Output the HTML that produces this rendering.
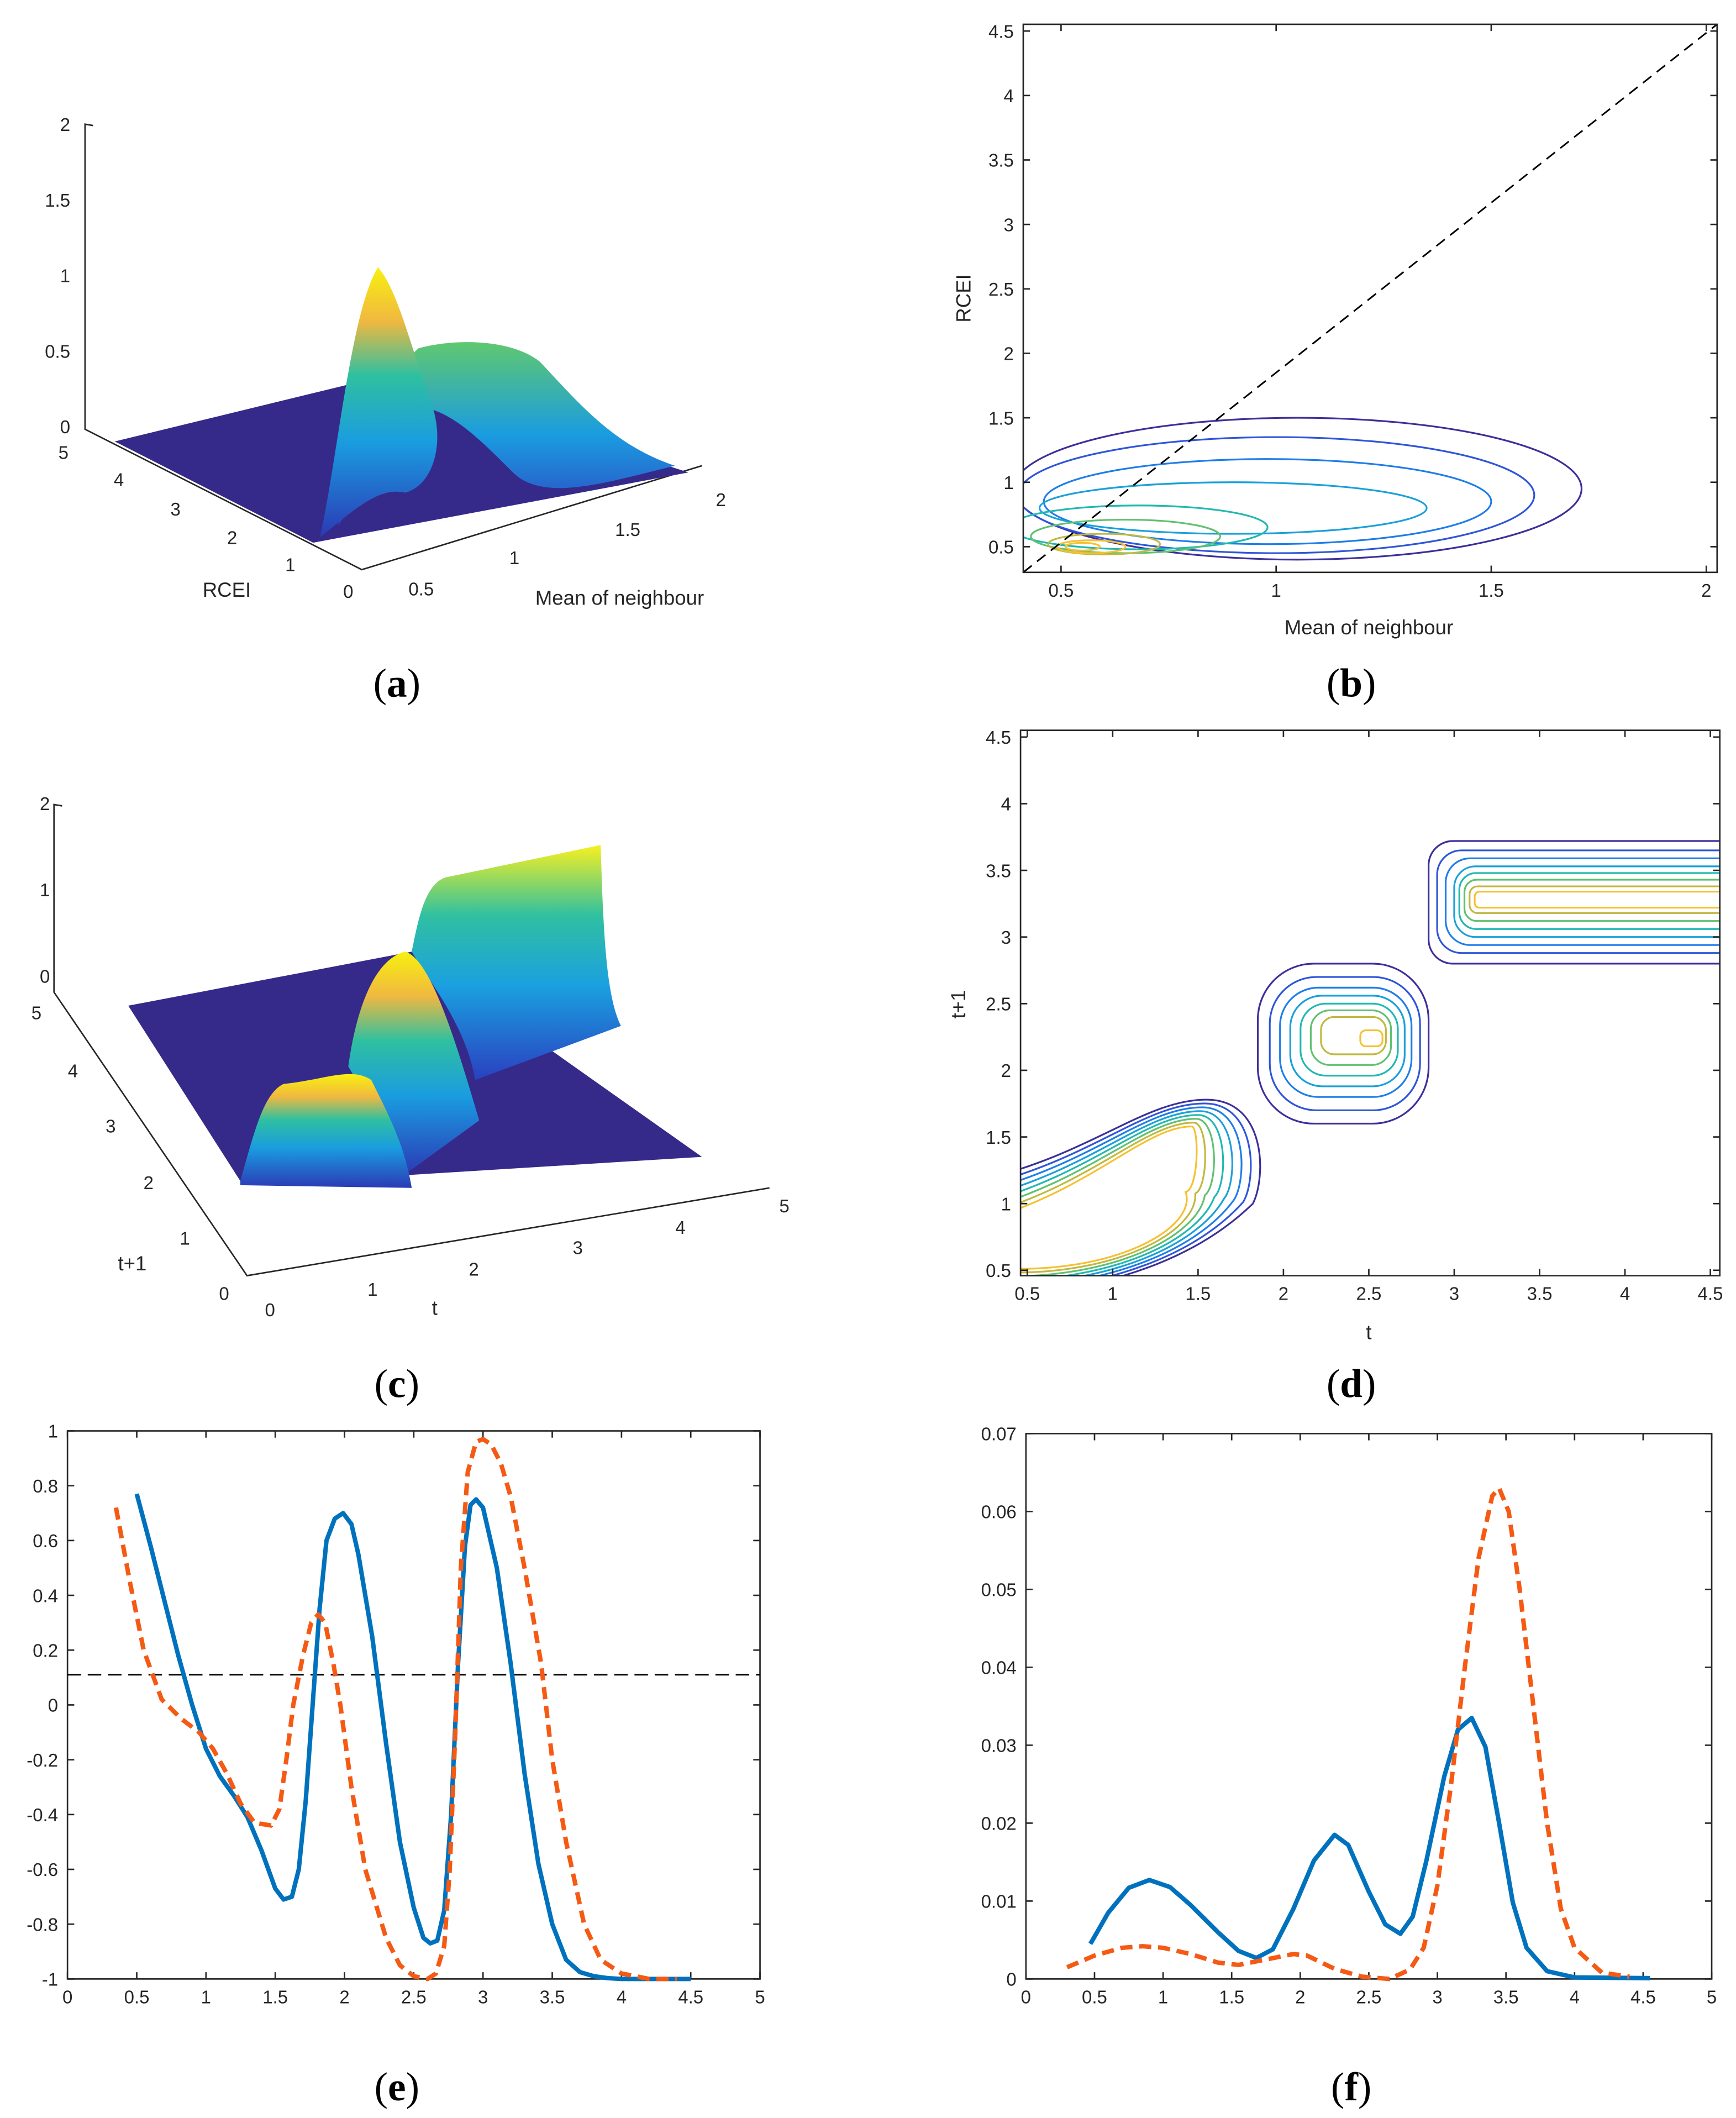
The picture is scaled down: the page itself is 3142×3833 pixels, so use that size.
<!DOCTYPE html>
<html><head><meta charset="utf-8"><style>
html,body{margin:0;padding:0;background:#fff}
svg{display:block}
text{font-family:"Liberation Sans",Arial,sans-serif;fill:#262626}
.lab text{font-family:"Liberation Serif",serif;font-size:30px;fill:#000}
.tk{font-size:13.5px}
.ax{stroke:#262626;stroke-width:1.1;fill:none}
</style></head><body>
<svg id="fig" xmlns="http://www.w3.org/2000/svg" width="3142" height="3833" viewBox="0 0 1286 1569" preserveAspectRatio="none">
<defs>
<linearGradient id="gpk" x1="0" y1="1" x2="0" y2="0"><stop offset="0" stop-color="#2b3ab5"/><stop offset="0.35" stop-color="#1a9ce0"/><stop offset="0.6" stop-color="#2fc0a0"/><stop offset="0.8" stop-color="#f0b840"/><stop offset="1" stop-color="#f8f010"/></linearGradient>
<linearGradient id="grd" x1="0" y1="1" x2="0" y2="0"><stop offset="0" stop-color="#3040c0"/><stop offset="0.5" stop-color="#1a9ce0"/><stop offset="1" stop-color="#60c870"/></linearGradient>
<linearGradient id="gwall" x1="0" y1="1" x2="0" y2="0"><stop offset="0" stop-color="#2a40c0"/><stop offset="0.4" stop-color="#1aa0e0"/><stop offset="0.7" stop-color="#30c0a0"/><stop offset="1" stop-color="#f8f020"/></linearGradient>
<clipPath id="cb"><rect x="758" y="18" width="514" height="406"/></clipPath>
<clipPath id="cd"><rect x="756" y="541" width="518" height="404"/></clipPath>
</defs>

<!-- (a) 3D surface -->
<g>
<polyline class="ax" points="69,93 63,92 63,318 268,422 520,345"/>
<g class="tk" text-anchor="end">
<text x="52" y="97">2</text><text x="52" y="153">1.5</text><text x="52" y="209">1</text><text x="52" y="265">0.5</text><text x="52" y="321">0</text>
</g>
<g class="tk" text-anchor="middle">
<text x="47" y="340">5</text><text x="88" y="360">4</text><text x="130" y="382">3</text><text x="172" y="403">2</text><text x="215" y="423">1</text><text x="258" y="443">0</text>
<text x="312" y="441">0.5</text><text x="381" y="418">1</text><text x="465" y="397">1.5</text><text x="534" y="375">2</text>
</g>
<text x="168" y="442" font-size="15" text-anchor="middle">RCEI</text>
<text x="459" y="448" font-size="15" text-anchor="middle">Mean of neighbour</text>
<polygon points="85,327 270,282 355,300 510,350 232,402" fill="#352a8a"/>
<path d="M250,390 C270,330 285,280 310,258 C340,250 380,252 400,268 C430,300 455,330 500,345 L480,350 C440,360 400,370 380,350 C350,320 330,300 300,300 C280,320 265,370 250,390 Z" fill="url(#grd)"/>
<path d="M237,398 C250,340 260,230 280,198 C295,215 305,260 320,300 C330,330 320,360 300,365 C280,360 260,380 237,398 Z" fill="url(#gpk)"/>
</g>

<!-- (c) 3D surface -->
<g>
<polyline class="ax" points="46,597 40,596 40,735 183,945 570,880"/>
<g class="tk" text-anchor="end">
<text x="37" y="600">2</text><text x="37" y="664">1</text><text x="37" y="728">0</text>
</g>
<g class="tk" text-anchor="middle">
<text x="27" y="755">5</text><text x="54" y="798">4</text><text x="82" y="839">3</text><text x="110" y="881">2</text><text x="137" y="922">1</text><text x="166" y="963">0</text>
<text x="200" y="975">0</text><text x="276" y="960">1</text><text x="351" y="945">2</text><text x="428" y="929">3</text><text x="504" y="914">4</text><text x="581" y="898">5</text>
</g>
<text x="98" y="941" font-size="15" text-anchor="middle">t+1</text>
<text x="322" y="974" font-size="15" text-anchor="middle">t</text>
<polygon points="95,745 305,705 520,857 180,878" fill="#352a8a"/>
<path d="M305,705 C310,680 315,655 330,650 L445,626 C447,700 450,740 460,760 L352,800 C345,760 320,730 305,705 Z" fill="url(#gwall)"/>
<path d="M258,790 C265,740 280,710 300,705 C320,710 340,780 355,830 L300,870 C285,840 270,810 258,790 Z" fill="url(#gpk)"/>
<path d="M178,875 C188,840 195,810 210,803 C240,800 260,790 275,800 C290,830 300,850 305,880 L178,878 Z" fill="url(#gpk)"/>
</g>

<!-- labels -->
<g class="lab" text-anchor="middle">
<text x="294" y="516">(<tspan font-weight="bold">a</tspan>)</text>
<text x="1001" y="516">(<tspan font-weight="bold">b</tspan>)</text>
<text x="294" y="1035">(<tspan font-weight="bold">c</tspan>)</text>
<text x="1001" y="1035">(<tspan font-weight="bold">d</tspan>)</text>
<text x="294" y="1556">(<tspan font-weight="bold">e</tspan>)</text>
<text x="1001" y="1556">(<tspan font-weight="bold">f</tspan>)</text>
</g>
<g id="dyn"></g>
</svg>
<script>
// ---- data ----
var eTicksX=[0,0.5,1,1.5,2,2.5,3,3.5,4,4.5,5];
var eTicksY=[-1,-0.8,-0.6,-0.4,-0.2,0,0.2,0.4,0.6,0.8,1];
var eBlueX=[0.5,0.6,0.7,0.8,0.9,1.0,1.1,1.2,1.3,1.4,1.5,1.56,1.62,1.67,1.72,1.77,1.82,1.87,1.93,1.99,2.05,2.1,2.2,2.3,2.4,2.5,2.57,2.62,2.67,2.72,2.77,2.82,2.87,2.91,2.95,3.0,3.1,3.2,3.3,3.4,3.5,3.6,3.7,3.8,3.9,4.0,4.5];
var eBlueY=[0.77,0.58,0.38,0.18,0.0,-0.16,-0.26,-0.33,-0.41,-0.53,-0.67,-0.71,-0.7,-0.6,-0.35,0.0,0.35,0.6,0.68,0.7,0.66,0.55,0.25,-0.14,-0.5,-0.74,-0.85,-0.87,-0.86,-0.75,-0.4,0.15,0.58,0.73,0.75,0.72,0.5,0.15,-0.25,-0.58,-0.8,-0.93,-0.975,-0.99,-0.997,-1,-1];
var eOrangeX=[0.35,0.45,0.55,0.68,0.82,0.95,1.05,1.15,1.25,1.35,1.47,1.53,1.58,1.63,1.7,1.76,1.81,1.86,1.92,1.97,2.05,2.15,2.3,2.4,2.5,2.6,2.66,2.72,2.76,2.8,2.84,2.89,2.95,3.0,3.06,3.13,3.2,3.3,3.42,3.5,3.6,3.73,3.85,4.0,4.2,4.4];
var eOrangeY=[0.72,0.45,0.2,0.02,-0.05,-0.1,-0.16,-0.25,-0.36,-0.43,-0.44,-0.38,-0.2,0.0,0.18,0.3,0.33,0.3,0.15,0.0,-0.3,-0.6,-0.85,-0.95,-0.99,-1.0,-0.98,-0.88,-0.6,-0.1,0.5,0.85,0.96,0.97,0.95,0.88,0.76,0.5,0.15,-0.2,-0.5,-0.8,-0.93,-0.98,-1,-1];
var eThreshold=[0.11];
var fTicksX=[0,0.5,1,1.5,2,2.5,3,3.5,4,4.5,5];
var fTicksY=[0,0.01,0.02,0.03,0.04,0.05,0.06,0.07];
var fBlueX=[0.47,0.6,0.75,0.9,1.05,1.2,1.4,1.55,1.68,1.8,1.95,2.1,2.25,2.35,2.5,2.62,2.73,2.82,2.92,3.05,3.15,3.25,3.35,3.45,3.55,3.65,3.8,4.0,4.55];
var fBlueY=[0.0045,0.0085,0.0117,0.0127,0.0118,0.0095,0.006,0.0036,0.0027,0.0038,0.009,0.0152,0.0185,0.0172,0.0112,0.007,0.0058,0.008,0.0152,0.026,0.032,0.0335,0.0298,0.02,0.0098,0.004,0.001,0.0002,0.0001];
var fOrangeX=[0.3,0.5,0.7,0.85,1.0,1.2,1.4,1.55,1.75,1.95,2.05,2.25,2.45,2.65,2.8,2.9,3.0,3.1,3.2,3.3,3.4,3.45,3.52,3.6,3.7,3.8,3.9,4.0,4.2,4.4];
var fOrangeY=[0.0015,0.003,0.004,0.0042,0.004,0.0032,0.0021,0.0018,0.0025,0.0032,0.003,0.0013,0.0003,0.0,0.0012,0.004,0.012,0.025,0.04,0.054,0.062,0.063,0.06,0.05,0.035,0.02,0.009,0.004,0.0008,0.0003];
var bTicksX=[0.5,1,1.5,2];
var bTicksY=[0.5,1,1.5,2,2.5,3,3.5,4,4.5];
// contour levels (b): center x, center y, radius x, radius y
var bLevelCx=[1.05,1.0,0.98,0.9,0.68,0.65,0.6,0.57,0.55];
var bLevelCy=[0.95,0.9,0.85,0.8,0.65,0.58,0.52,0.5,0.5];
var bLevelRx=[0.66,0.6,0.52,0.45,0.3,0.22,0.13,0.08,0.04];
var bLevelRy=[0.55,0.45,0.33,0.2,0.17,0.13,0.08,0.05,0.03];
var dTicksX=[0.5,1,1.5,2,2.5,3,3.5,4,4.5];
var dTicksY=[0.5,1,1.5,2,2.5,3,3.5,4,4.5];
// contour groups (d): x0,x1,y0,y1 per level
var d2X0=[1.85,1.92,1.98,2.04,2.1,2.16,2.22,2.45];
var d2X1=[2.85,2.8,2.75,2.71,2.67,2.63,2.6,2.58];
var d2Y0=[1.6,1.7,1.8,1.88,1.96,2.04,2.12,2.18];
var d2Y1=[2.8,2.7,2.62,2.56,2.5,2.45,2.4,2.3];
var d3X0=[2.85,2.9,2.95,3.0,3.03,3.06,3.09,3.12];
var d3Y0=[2.8,2.88,2.94,3.0,3.06,3.12,3.18,3.22];
var d3Y1=[3.72,3.65,3.59,3.53,3.48,3.43,3.38,3.34];
var levelColors=["#3d2f9a","#2f55d8","#1e7de8","#1aa0d8","#20b8b0","#60c070","#c0b840","#f5c030"];

var NS="http://www.w3.org/2000/svg";
var dyn=document.getElementById('dyn');
function el(tag,attrs,parent){var e=document.createElementNS(NS,tag);for(var k in attrs)e.setAttribute(k,attrs[k]);(parent||dyn).appendChild(e);return e;}
function lin(d0,d1,p0,p1){return function(v){return p0+(v-d0)/(d1-d0)*(p1-p0);};}
function axesBox(g,L,T,R,B,xs,ys,xt,yt,fmtx,fmty,labelsX,labelsY){
  var r=el('rect',{x:L,y:T,width:R-L,height:B-T,class:'ax'},g);
  
  
  xt.forEach(function(v){var x=xs(v);el('line',{x1:x,y1:B,x2:x,y2:B-5,class:'ax'},g);el('line',{x1:x,y1:T,x2:x,y2:T+5,class:'ax'},g);
    if(labelsX){var t=el('text',{x:x,y:B+18,'text-anchor':'middle',class:'tk'},g);t.textContent=fmtx(v);}});
  yt.forEach(function(v){var y=ys(v);el('line',{x1:L,y1:y,x2:L+5,y2:y,class:'ax'},g);el('line',{x1:R,y1:y,x2:R-5,y2:y,class:'ax'},g);
    if(labelsY){var t=el('text',{x:L-7,y:y+5,'text-anchor':'end',class:'tk'},g);t.textContent=fmty(v);}});
}
function fmt(v){return String(v);}
function line(g,X,Y,xs,ys,color,dash,name){
  var pts=X.map(function(x,i){return xs(x).toFixed(2)+','+ys(Y[i]).toFixed(2);}).join(' ');
  var p=el('polyline',{points:pts,fill:'none',stroke:color,'stroke-width':3.3,'stroke-linejoin':'round'},g);
  if(dash)p.setAttribute('stroke-dasharray',dash);
  
  
}
// (e)
(function(){
  var g=el('g',{});
  
  
  var xs=lin(0,5,50,563), ys=lin(-1,1,1466,1060);
  axesBox(g,50,1060,563,1466,xs,ys,eTicksX,eTicksY,fmt,fmt,true,true);
  var th=el('line',{x1:50,x2:563,y1:ys(eThreshold[0]),y2:ys(eThreshold[0]),stroke:'#000','stroke-width':1.1,'stroke-dasharray':'10,5'},g);
  
  
  line(g,eBlueX,eBlueY,xs,ys,'#0072bd',null,'series-blue');
  line(g,eOrangeX,eOrangeY,xs,ys,'#f55a14','9,5','series-orange-dashed');
})();
// (f)
(function(){
  var g=el('g',{});
  
  
  var xs=lin(0,5,760,1268), ys=lin(0,0.07,1466,1062);
  axesBox(g,760,1062,1268,1466,xs,ys,fTicksX,fTicksY,fmt,function(v){return v===0?'0':v.toFixed(2);},true,true);
  line(g,fBlueX,fBlueY,xs,ys,'#0072bd',null,'series-blue');
  line(g,fOrangeX,fOrangeY,xs,ys,'#f55a14','9,5','series-orange-dashed');
})();
// (b)
(function(){
  var g=el('g',{});
  
  
  var xs=lin(0.5,2,786,1264), ys=lin(0.5,4.5,405,23);
  var cg=el('g',{'clip-path':'url(#cb)'},g);
  bLevelCx.forEach(function(cx,i){
    var e=el('ellipse',{cx:xs(cx),cy:ys(bLevelCy[i]),rx:bLevelRx[i]*(xs(1)-xs(0)),ry:bLevelRy[i]*(ys(0)-ys(1)),fill:'none',stroke:levelColors[Math.min(i,levelColors.length-1)],'stroke-width':1.3},cg);
    
    
  });
  var d=el('line',{x1:758,y1:424,x2:1272,y2:18,stroke:'#000','stroke-width':1.2,'stroke-dasharray':'8,5'},g);
  
  
  axesBox(g,758,18,1272,424,xs,ys,bTicksX,bTicksY,fmt,fmt,true,true);
  var t=el('text',{x:1014,y:470,'text-anchor':'middle','font-size':15},g);t.textContent='Mean of neighbour';
  
  
  var t2=el('text',{x:719,y:221,'text-anchor':'middle','font-size':15,transform:'rotate(-90 719 221)'},g);t2.textContent='RCEI';
  
  
})();
// (d)
(function(){
  var g=el('g',{});
  
  
  var xs=lin(0.5,4.5,761,1267), ys=lin(0.5,4.5,941,546);
  var cg=el('g',{'clip-path':'url(#cd)'},g);
  for(var i=0;i<8;i++){
    var k=i/8;
    var p=el('path',{d:'',fill:'none',stroke:levelColors[i],'stroke-width':1.3},cg);
    var x0=xs(0.3),x1=xs(1.9-0.45*k),yb=ys(0.35+0.12*k),yt=ys(1.78-0.08*k-0.15*k);
    var ym=ys(1.2-0.1*k);
    p.setAttribute('d','M'+x0+','+(ys(1.2-0.35*k))+' C'+xs(0.9)+','+(ys(1.4-0.3*k))+' '+xs(1.2)+','+yt+' '+xs(1.55-0.1*k)+','+yt+' C'+x1+','+yt+' '+x1+','+ym+' '+(x1-10)+','+ys(1.0+0.1*k)+' C'+xs(1.5)+','+ys(0.6+0.25*k)+' '+xs(1.0)+','+yb+' '+x0+','+(ys(0.3+0.25*k)));
    
    
  }
  d2X0.forEach(function(x0,i){
    var w=xs(d2X1[i])-xs(x0), h=ys(d2Y0[i])-ys(d2Y1[i]);
    var r=el('rect',{x:xs(x0),y:ys(d2Y1[i]),width:w,height:h,rx:Math.min(w,h)*0.35,fill:'none',stroke:levelColors[i],'stroke-width':1.3},cg);
    
    
  });
  d3X0.forEach(function(x0,i){
    var h=ys(d3Y0[i])-ys(d3Y1[i]);
    var r=el('rect',{x:xs(x0),y:ys(d3Y1[i]),width:xs(5)-xs(x0),height:h,rx:Math.min(h*0.3,18),fill:'none',stroke:levelColors[i],'stroke-width':1.3},cg);
    
    
  });
  axesBox(g,756,541,1274,945,xs,ys,dTicksX,dTicksY,fmt,fmt,true,true);
  var t=el('text',{x:1014,y:992,'text-anchor':'middle','font-size':15},g);t.textContent='t';
  
  
  var t2=el('text',{x:715,y:744,'text-anchor':'middle','font-size':15,transform:'rotate(-90 715 744)'},g);t2.textContent='t+1';
  
  
})();
</script>
</body></html>
